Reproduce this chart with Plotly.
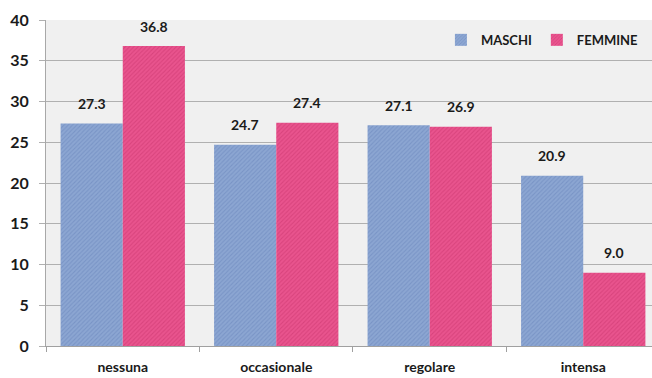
import plotly.graph_objects as go

# Data
categories = ["nessuna", "occasionale", "regolare", "intensa"]
maschi = [27.3, 24.7, 27.1, 20.9]
femmine = [36.8, 27.4, 26.9, 9.0]
y_ticks = [0, 5, 10, 15, 20, 25, 30, 35, 40]
series_names = ["MASCHI", "FEMMINE"]

BLUE_BG, BLUE_FG = "#8ca6d2", "#6783ba"
PINK_BG, PINK_FG = "#e9548e", "#c8336c"
FONT = "Lato"

fig = go.Figure()
fig.add_trace(go.Bar(
    name=f"<b>{series_names[0]}</b>", x=categories, y=maschi,
    marker=dict(color=BLUE_BG, line=dict(width=0),
                pattern=dict(shape="/", fgcolor=BLUE_FG, size=3, solidity=0.35)),
))
fig.add_trace(go.Bar(
    name=f"<b>{series_names[1]}</b>", x=categories, y=femmine,
    marker=dict(color=PINK_BG, line=dict(width=0),
                pattern=dict(shape="/", fgcolor=PINK_FG, size=3, solidity=0.35)),
))

# value labels above each bar
half = 31
for vals, shift in ((maschi, -half), (femmine, half)):
    for c, v in zip(categories, vals):
        fig.add_annotation(x=c, y=v, text=f"<b>{v:.1f}</b>", showarrow=False,
                           xshift=shift, yshift=20, yanchor="middle",
                           font=dict(family=FONT, size=14, color="#1a1a1a"))

fig.update_layout(
    width=652, height=378,
    margin=dict(l=46, r=0, t=20, b=32, autoexpand=False),
    paper_bgcolor="white", plot_bgcolor="#f0f0f0",
    barmode="group", bargap=0.19, bargroupgap=0,
    font=dict(family=FONT, size=14, color="#1a1a1a"),
    legend=dict(orientation="h", x=0.985, y=0.985, xanchor="right", yanchor="top",
                bgcolor="rgba(0,0,0,0)", font=dict(family=FONT, size=13, color="#1a1a1a"),
                itemwidth=30, tracegroupgap=0),
    showlegend=True,
)
fig.update_xaxes(
    range=[-0.5, 3.448], showgrid=False, showline=True, linecolor="#a0a0a0",
    ticks="outside", ticklen=5, tickcolor="#a0a0a0", tickson="boundaries",
    ticklabelstandoff=8,
    tickfont=dict(family=FONT, size=14, color="#1a1a1a"),
    ticktext=[f"<b>{c}</b>" for c in categories], tickvals=categories,
)
fig.update_yaxes(
    range=[0, 40], tickvals=y_ticks, ticktext=[f"<b>{t}</b>" for t in y_ticks],
    showgrid=True, gridcolor="#b0b0b0", gridwidth=1, zeroline=False,
    showline=True, linecolor="#a8a8a8",
    ticks="outside", ticklen=6, tickcolor="#b0b0b0", automargin=False,
    ticklabelstandoff=7,
    tickfont=dict(family=FONT, size=16, color="#1a1a1a"),
)

fig.write_html("out.html")
